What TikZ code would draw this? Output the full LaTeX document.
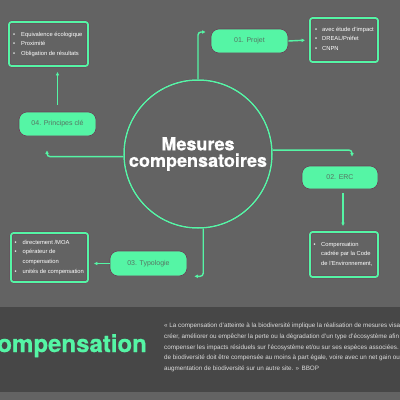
\documentclass[tikz,border=0pt]{standalone}
\usepackage{fontspec}
\setmainfont{Liberation Sans}
\newfontfamily\heavyfont{TeX Gyre Heros}[FakeBold=0.6]
\usetikzlibrary{arrows.meta}
\definecolor{bg}{HTML}{636363}
\definecolor{band}{HTML}{474747}
\definecolor{mint}{HTML}{55F5A5}
\definecolor{edgec}{HTML}{6A4058}
\definecolor{btext}{HTML}{557563}
\definecolor{qtext}{HTML}{DCDCDC}
\newcommand\bitem[1]{\makebox[#1][l]{\textbullet}}
\begin{document}
\begin{tikzpicture}[x=1pt,y=-1pt,
  bubble/.style={draw=edgec, line width=0.6pt, fill=mint, rounded corners=8pt,
    minimum width=77pt, minimum height=24pt, inner sep=0pt,
    font=\fontsize{7}{8}\selectfont, text=btext},
  infobox/.style={draw=mint, line width=1.8pt, rounded corners=2.5pt,
    preaction={draw=edgec, line width=2.6pt}, inner sep=0pt},
  listtext/.style={anchor=north west, inner sep=0pt, align=left, text=white,
    font=\fontsize{5.8}{9.5}\selectfont},
  link/.style={draw=mint, line width=1.4pt, rounded corners=3pt,
    -{Latex[length=3.5pt,width=3.8pt]}},
  ring/.style={circle, draw=mint, line width=1.5pt, preaction={draw=edgec, line width=2.2pt},
    minimum size=148pt, inner sep=0pt, align=center, text=white,
    font=\heavyfont\bfseries\fontsize{18}{16.5}\selectfont}
]
\clip (0,0) rectangle (400,400);
\fill[bg] (0,0) rectangle (400,400);
\fill[band] (0,307) rectangle (400,392);

% central circle
\node[ring] (c) at (198,154) {Mesures\\compensatoires};

% bubbles
\node[bubble] (p1) at (249.5,41) {01. Projet};
\node[bubble, minimum width=76pt, minimum height=23pt] (p2) at (340,177.5) {02. ERC};
\node[bubble, minimum height=25pt] (p3) at (148.5,263.5) {03. Typologie};
\node[bubble] (p4) at (57.5,124) {04. Principes clé};

% info boxes
\node[infobox, minimum width=79pt, minimum height=44pt] (tlbox) at (48.5,44) {};
\node[infobox, minimum width=68pt, minimum height=44pt] (rtbox) at (344,40) {};
\node[infobox, minimum width=77pt, minimum height=49pt] (blbox) at (49.5,257.5) {};
\node[infobox, minimum width=68pt, minimum height=45pt] (brbox) at (344,254.5) {};

\node[listtext] (tlt) at (13,29.8) {\rule{0pt}{6pt}\bitem{8pt}Equivalence écologique\\\bitem{8pt}Proximité\\\bitem{8pt}Obligation de résultats};
\node[listtext] (rtt) at (315,24.8) {\rule{0pt}{6pt}\bitem{7pt}avec étude d'impact\\\bitem{7pt}DREAL/Préfet\\\bitem{7pt}CNPN};
\node[listtext, font=\fontsize{5.8}{9.7}\selectfont] (blt) at (14.5,237.8) {\rule{0pt}{6pt}\bitem{8pt}directement /MOA\\\bitem{8pt}opérateur de\\\hspace*{8pt}compensation\\\bitem{8pt}unités de compensation};
\node[listtext] (brt) at (313.5,239.8) {\rule{0pt}{6pt}\bitem{7.5pt}Compensation\\\hspace*{7.5pt}cadrée par la Code\\\hspace*{7.5pt}de l'Environnement,};

% connectors
\draw[link] (c.north) |- ([xshift=-5pt,yshift=9pt]p1.west);
\draw[link, shorten >=4pt] (p1.east) -- (rtbox.west);
\draw[link] (c.3) -| ([xshift=12pt,yshift=9pt]p2.north);
\draw[link, shorten <=4pt, shorten >=5pt] ([xshift=3pt]p2.south) -- ([xshift=3pt]p2.south |- brbox.north);
\draw[link] (c.274) |- ([xshift=7pt]p3.south east);
\draw[link, shorten >=5pt] (p3.west) -- (p3.west -| blbox.east);
\draw[link] (c.182) -| ([xshift=-10.5pt,yshift=-14pt]p4.south);
\draw[link, shorten <=7pt, shorten >=5pt] (p4.north) -- (p4.north |- tlbox.south);

% bottom band
\node[anchor=base east, inner sep=0pt, text=mint, font=\heavyfont\bfseries\fontsize{24}{24}\selectfont] (big) at (147,352) {compensation};
\node[anchor=north west, inner sep=0pt, align=left, text=qtext, font=\fontsize{6.3}{10.9}\selectfont] (quote) at (164,321)
{\rule{0pt}{6pt}« La compensation d'atteinte à la biodiversité implique la réalisation de mesures visant à\\
créer, améliorer ou empêcher la perte ou la dégradation d'un type d'écosystème afin de\\
compenser les impacts résiduels sur l'écosystème et/ou sur ses espèces associées. La perte\\
de biodiversité doit être compensée au moins à part égale, voire avec un net gain ou une\\
augmentation de biodiversité sur un autre site. » BBOP};
\end{tikzpicture}
\end{document}
